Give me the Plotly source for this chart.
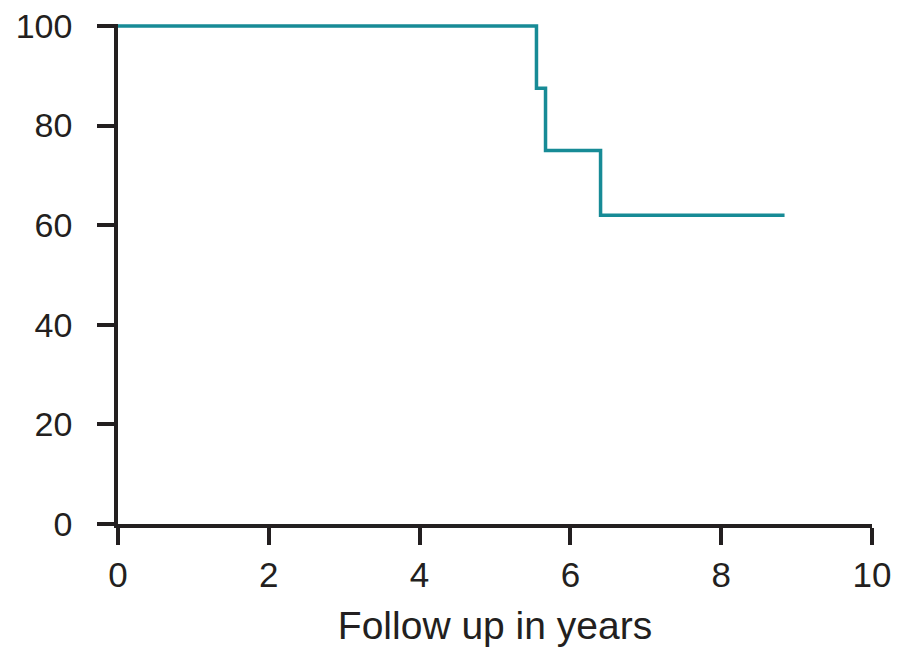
import plotly.graph_objects as go

# Kaplan-Meier style step data (years, percent)
follow_up_years = [0, 5.55, 5.67, 6.40, 8.84]
survival_pct = [100, 87.5, 75, 62, 62]

x_tick_vals = [0, 2, 4, 6, 8, 10]
y_tick_vals = [0, 20, 40, 60, 80, 100]
x_title = "Follow up in years"

AX = "#231f20"
LINE = "#178b96"
FONT = "Liberation Sans, Arial, sans-serif"

fig = go.Figure()
fig.add_trace(go.Scatter(
    x=follow_up_years, y=survival_pct,
    mode="lines", line=dict(shape="hv", color=LINE, width=3.5),
    cliponaxis=False, showlegend=False, hoverinfo="skip",
))

fig.update_layout(
    width=909, height=648,
    margin=dict(l=118, r=37, t=24, b=124, autoexpand=False),
    paper_bgcolor="white", plot_bgcolor="white",
    font=dict(family=FONT, size=34, color=AX),
    xaxis=dict(
        range=[0, 10], tickvals=x_tick_vals, ticks="outside", ticklen=17,
        tickwidth=3.5, tickcolor=AX, showline=True, linewidth=3.5, linecolor=AX,
        showgrid=False, zeroline=False, tickfont=dict(size=35, color=AX),
        title=dict(text=x_title, font=dict(size=39, color=AX), standoff=20),
        ticklabelstandoff=0, automargin=False,
    ),
    yaxis=dict(
        range=[0, 100.4], tickvals=y_tick_vals, ticks="outside", ticklen=17,
        tickwidth=3.5, tickcolor=AX, showline=True, linewidth=3.5, linecolor=AX,
        showgrid=False, zeroline=False, tickfont=dict(size=34, color=AX),
        ticklabelstandoff=18, automargin=False,
    ),
)

fig.write_html(
    "out.html",
    config={"displayModeBar": False},
    post_script="document.body.style.margin='0';",
)
